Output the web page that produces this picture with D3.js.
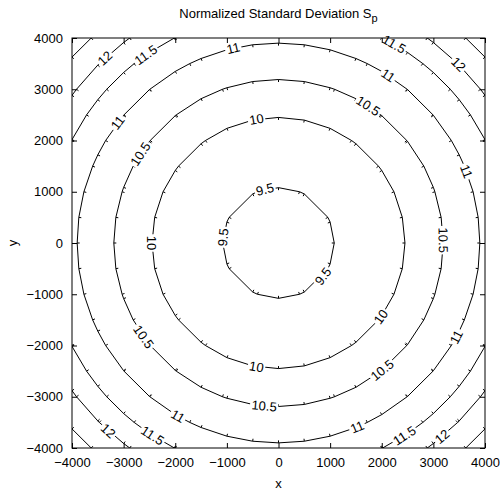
<!DOCTYPE html>
<html><head><meta charset="utf-8">
<script src="https://cdn.jsdelivr.net/npm/d3@7"></script>
<style>body{margin:0;background:#fff}svg{display:block}text{font-family:"Liberation Sans",Arial,sans-serif;fill:#000}</style>
</head><body>
<script>
// ---- data ----
const xTicks = [-4000,-3000,-2000,-1000,0,1000,2000,3000,4000];
const yTicks = [-4000,-3000,-2000,-1000,0,1000,2000,3000,4000];
const levels = [9.5, 10, 10.5, 11, 11.5, 12, 12.5];        // contour levels
const levelRadii = [1080, 2450, 3190, 3900, 4480, 4930, 5400]; // radius of each contour (data units)
const labelLevels = [9.5, 9.5, 9.5, 10, 10, 10, 10, 10.5, 10.5, 10.5, 10.5, 10.5, 10.5, 11, 11, 11, 11, 11, 11, 11, 11.5, 11.5, 11.5, 11.5, 12, 12, 12, 12];
const labelAngles = [104, 174, -37, 100, 180, -36, -100, 57, 147, 1, 215, -95, -51, 103, 57, 21, -28, -67, 143, 240, 125, 60, 237, -57, 133, 45, 228, -50];
const gridStep = 500;

const W = 500, H = 494;
const M = {left: 72, right: 485, top: 38, bottom: 448};
const svg = d3.select("body").append("svg").attr("width", W).attr("height", H);
const x = d3.scaleLinear().domain([-4000, 4000]).range([M.left, M.right]);
const y = d3.scaleLinear().domain([-4000, 4000]).range([M.bottom, M.top]);
const fs = 13;

svg.append("defs").append("clipPath").attr("id", "clip")
  .append("rect").attr("x", M.left).attr("y", M.top).attr("width", M.right - M.left).attr("height", M.bottom - M.top);

// polygon vertices: intersections of each contour with the grid lines
function ring(r) {
  const pts = [];
  for (let g = -6000; g <= 6000; g += gridStep) {
    if (Math.abs(g) < r) {
      const h = Math.sqrt(r * r - g * g);
      pts.push([g, h], [g, -h], [h, g], [-h, g]);
    }
  }
  pts.sort((a, b) => Math.atan2(a[1], a[0]) - Math.atan2(b[1], b[0]));
  return pts.filter((p, i) => i === 0 || Math.hypot(p[0] - pts[i - 1][0], p[1] - pts[i - 1][1]) > 1);
}

const labelG = svg.append("g");
const maskEl = svg.select("defs").append("mask").attr("id", "lblmask").attr("maskUnits", "userSpaceOnUse")
  .attr("x", 0).attr("y", 0).attr("width", W).attr("height", H);
maskEl.append("rect").attr("x", 0).attr("y", 0).attr("width", W).attr("height", H).attr("fill", "#fff");

labelLevels.forEach((lv, i) => {
  const r = levelRadii[levels.indexOf(lv)];
  const a = labelAngles[i] * Math.PI / 180;
  const px = x(r * Math.cos(a)), py = y(r * Math.sin(a));
  let rot = 90 - labelAngles[i];
  while (rot > 90) rot -= 180;
  while (rot <= -90) rot += 180;
  const t = labelG.append("text")
    .attr("transform", `translate(${px},${py}) rotate(${rot})`)
    .attr("text-anchor", "middle").attr("dy", "0.35em")
    .attr("font-size", fs).text(String(lv));
  const w = t.node().getComputedTextLength();
  maskEl.append("rect")
    .attr("transform", `translate(${px},${py}) rotate(${rot})`)
    .attr("x", -w / 2 - 1.5).attr("y", -6).attr("width", w + 3).attr("height", 12).attr("fill", "#000");
});

const cg = svg.append("g").attr("clip-path", "url(#clip)").append("g").attr("mask", "url(#lblmask)");
const line = d3.line().x(d => x(d[0])).y(d => y(d[1])).curve(d3.curveLinearClosed);
levels.forEach((lv, i) => {
  const pts = ring(levelRadii[i]);
  cg.append("path").attr("d", line(pts)).attr("fill", "none").attr("stroke", "#000").attr("stroke-width", 1);
  pts.forEach(p => {
    const X = x(p[0]), Y = y(p[1]);
    const d = Math.hypot(X - x(0), Y - y(0));
    const ux = (x(0) - X) / d, uy = (y(0) - Y) / d;
    cg.append("line").attr("x1", X).attr("y1", Y).attr("x2", X + ux * 2.5).attr("y2", Y + uy * 2.5)
      .attr("stroke", "#000").attr("stroke-width", 1);
  });
});
labelG.raise();

svg.append("rect").attr("x", M.left).attr("y", M.top).attr("width", M.right - M.left).attr("height", M.bottom - M.top)
  .attr("fill", "none").attr("stroke", "#000").attr("stroke-width", 1);

const tk = 5;
const xb = svg.append("g").attr("transform", `translate(0,${M.bottom})`)
  .call(d3.axisBottom(x).tickValues(xTicks).tickSize(-tk).tickPadding(tk + 5).tickFormat(d3.format("d")));
const xt = svg.append("g").attr("transform", `translate(0,${M.top})`)
  .call(d3.axisTop(x).tickValues(xTicks).tickSize(-tk).tickFormat(""));
const yl = svg.append("g").attr("transform", `translate(${M.left},0)`)
  .call(d3.axisLeft(y).tickValues(yTicks).tickSize(-tk).tickPadding(tk + 4).tickFormat(d3.format("d")));
const yr = svg.append("g").attr("transform", `translate(${M.right},0)`)
  .call(d3.axisRight(y).tickValues(yTicks).tickSize(-tk).tickFormat(""));
[xb, xt, yl, yr].forEach(g => {
  g.select(".domain").remove();
  g.selectAll("line").attr("stroke", "#000");
  g.selectAll("text").attr("font-size", fs).attr("font-family", '"Liberation Sans",Arial,sans-serif').attr("fill", "#000");
});

const title = svg.append("text").attr("x", (M.left + M.right) / 2).attr("y", 18)
  .attr("text-anchor", "middle").attr("font-size", fs);
title.append("tspan").text("Normalized Standard Deviation S");
title.append("tspan").attr("font-size", 11).attr("dy", 4).text("p");
svg.append("text").attr("x", (M.left + M.right) / 2).attr("y", 488).attr("text-anchor", "middle").attr("font-size", fs).text("x");
svg.append("text").attr("transform", `translate(17,${(M.top + M.bottom) / 2}) rotate(-90)`).attr("text-anchor", "middle").attr("font-size", fs).text("y");
</script>
</body></html>
